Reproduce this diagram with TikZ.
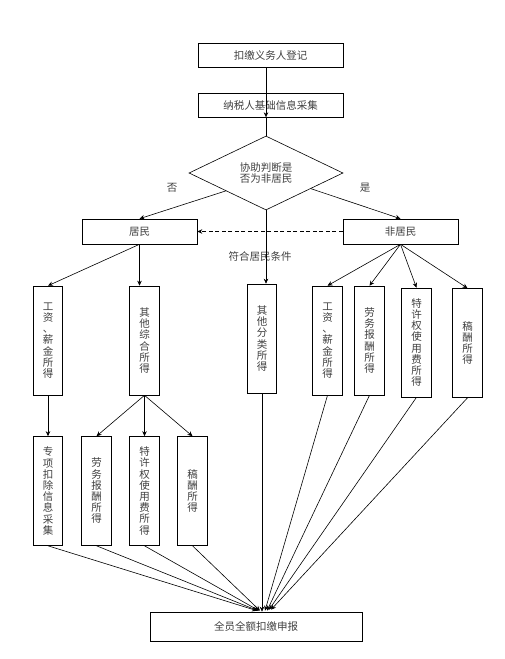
\documentclass[tikz,border=0pt]{standalone}
\usepackage{fontspec}
\setmainfont{Noto Sans CJK SC}
\usepackage{tikz}
\usetikzlibrary{calc}
\usetikzlibrary{shapes.geometric}
\usetikzlibrary{arrows.meta}
\tikzset{
	widestyle/.style={rectangle,draw=black,fill=white,minimum width=145pt,minimum height=24pt,inner sep=0pt},
	sidestyle/.style={rectangle,draw=black,fill=white,minimum width=115pt,minimum height=25pt,inner sep=0pt},
	tallstyle/.style={rectangle,draw=black,fill=white,minimum width=29.5pt,minimum height=109pt,inner sep=0pt,align=center},
	judgestyle/.style={diamond,draw=black,fill=white,minimum width=154pt,minimum height=74pt,inner sep=0pt,align=center},
	labelstyle/.style={inner sep=0pt},
	arrowstyle/.style={-{Stealth[length=5pt,width=4.5pt]}}
}

\begin{document}
\begin{tikzpicture}[x=1pt,y=-1pt,line width=0.6pt,font=\fontsize{10.5}{11.2}\selectfont,text=black!75]
		\useasboundingbox (0,0) rectangle (505,659);
		\node[widestyle] (reg) at (270.5,55) {扣缴义务人登记};
		\node[widestyle] (info) at (270.5,105) {纳税人基础信息采集};
		\node[judgestyle] (judge) at (266,173) {协助判断是\\否为非居民};
		\node[labelstyle] (no) at (172,188) {否};
		\node[labelstyle] (yes) at (365,188) {是};
		\node[sidestyle] (res) at (139.5,231.5) {居民};
		\node[sidestyle] (nonres) at (400.5,231.5) {非居民};
		\node[labelstyle] (cond) at (260,257) {符合居民条件};
		\node[tallstyle] (wageres) at (48,340.5) {工\\资\\、\\薪\\金\\所\\得};
		\node[tallstyle] (mixres) at (144.5,340.5) {其\\他\\综\\合\\所\\得};
		\node[tallstyle] (other) at (262,338.5) {其\\他\\分\\类\\所\\得};
		\node[tallstyle] (wagenon) at (327.5,340.5) {工\\资\\、\\薪\\金\\所\\得};
		\node[tallstyle] (labornon) at (369.5,340.5) {劳\\务\\报\\酬\\所\\得};
		\node[tallstyle] (royalnon) at (416.5,342.5) {特\\许\\权\\使\\用\\费\\所\\得};
		\node[tallstyle] (feenon) at (467.5,343) {稿\\酬\\所\\得};
		\node[tallstyle] (special) at (48,491) {专\\项\\扣\\除\\信\\息\\采\\集};
		\node[tallstyle] (laborres) at (96.5,491) {劳\\务\\报\\酬\\所\\得};
		\node[tallstyle] (royalres) at (144.5,491) {特\\许\\权\\使\\用\\费\\所\\得};
		\node[tallstyle] (feeres) at (192.5,491) {稿\\酬\\所\\得};
		\node[widestyle,minimum width=212pt,minimum height=29pt] (all) at (256,626.5) {全员全额扣缴申报};
		\draw[arrowstyle] (reg.south -| judge.north) -- (info.south -| judge.north);
		\draw (info.south -| judge.north) -- (judge.north);
		\draw[arrowstyle] ($(judge.west)!0.48!(judge.south)$) -- (res.north);
		\draw[arrowstyle] ($(judge.east)!0.42!(judge.south)$) -- (nonres.north);
		\draw[arrowstyle] (judge.south) -- (judge.south |- other.north);
		\draw[arrowstyle,dash pattern=on 4pt off 2.5pt] (nonres.west) -- (res.east);
		\draw[arrowstyle] (res.south) -- (wageres.north);
		\draw[arrowstyle] (res.south) -- (res.south |- mixres.north);
		\draw[arrowstyle] (nonres.south) -- (wagenon.north);
		\draw[arrowstyle] (nonres.south) -- (labornon.north);
		\draw[arrowstyle] (nonres.south) -- (royalnon.north);
		\draw[arrowstyle] (nonres.south) -- (feenon.north);
		\draw[arrowstyle] (wageres.south) -- (special.north);
		\draw[arrowstyle] (mixres.south) -- (laborres.north);
		\draw[arrowstyle] (mixres.south) -- (royalres.north);
		\draw[arrowstyle] (mixres.south) -- (feeres.north);
		\draw[arrowstyle] (special.south) -- ([xshift=1pt,yshift=1pt]all.north);
		\draw[arrowstyle] (laborres.south) -- ([xshift=2pt,yshift=1pt]all.north);
		\draw[arrowstyle] (royalres.south) -- ([xshift=3pt,yshift=1pt]all.north);
		\draw[arrowstyle] (feeres.south) -- ([xshift=4pt,yshift=1pt]all.north);
		\draw[arrowstyle] (other.south) -- (other.south |- all.north);
		\draw[arrowstyle] (wagenon.south) -- ([xshift=9pt,yshift=1pt]all.north);
		\draw[arrowstyle] (labornon.south) -- ([xshift=11pt,yshift=1pt]all.north);
		\draw[arrowstyle] (royalnon.south) -- ([xshift=13pt,yshift=2pt]all.north);
		\draw[arrowstyle] (feenon.south) -- ([xshift=15pt,yshift=2pt]all.north);
		\end{tikzpicture}
\end{document}
